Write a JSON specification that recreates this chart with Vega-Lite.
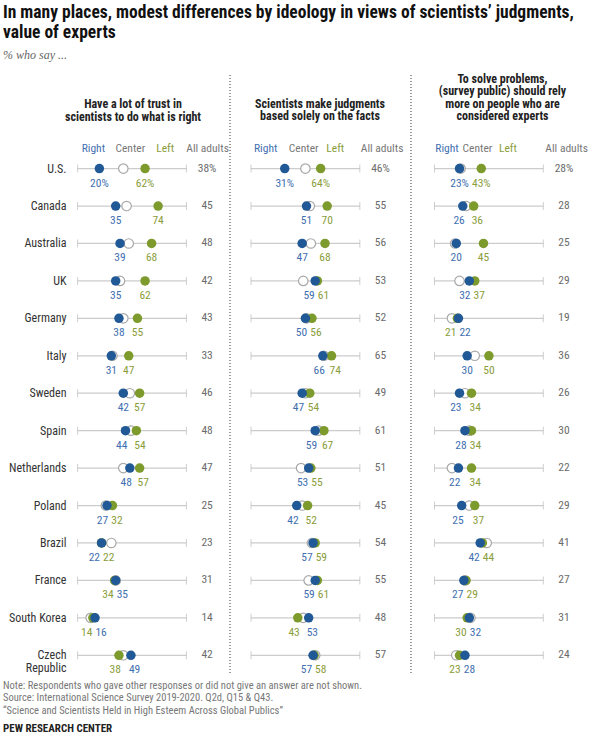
{
  "$schema": "https://vega.github.io/schema/vega-lite/v6.json",
  "background": "white",
  "padding": {"left": 3, "top": 4, "right": 5, "bottom": 5},
  "title": {
    "text": ["In many places, modest differences by ideology in views of scientists’ judgments,", "value of experts"],
    "subtitle": "% who say ...",
    "anchor": "start",
    "font": "Liberation Sans Narrow, Roboto Condensed, Arial Narrow, Roboto, sans-serif",
    "fontSize": 17.5,
    "fontWeight": "bold",
    "lineHeight": 20,
    "color": "#111111",
    "subtitleFont": "Liberation Serif, DejaVu Serif, serif",
    "subtitleFontStyle": "italic",
    "subtitleFontSize": 12,
    "subtitleColor": "#666666",
    "subtitlePadding": 8,
    "offset": 12
  },
  "datasets": {
    "trust": [
      {"country": "U.S.", "R": 20, "C": 42, "L": 62, "all": 38},
      {"country": "Canada", "R": 35, "C": 45, "L": 74, "all": 45},
      {"country": "Australia", "R": 39, "C": 47, "L": 68, "all": 48},
      {"country": "UK", "R": 35, "C": 39, "L": 62, "all": 42},
      {"country": "Germany", "R": 38, "C": 42, "L": 55, "all": 43},
      {"country": "Italy", "R": 31, "C": 32, "L": 47, "all": 33},
      {"country": "Sweden", "R": 42, "C": 48, "L": 57, "all": 46},
      {"country": "Spain", "R": 44, "C": 49, "L": 54, "all": 48},
      {"country": "Netherlands", "R": 48, "C": 42, "L": 57, "all": 47},
      {"country": "Poland", "R": 27, "C": 26, "L": 32, "all": 25},
      {"country": "Brazil", "R": 22, "C": 31, "L": 22, "all": 23},
      {"country": "France", "R": 35, "C": 35, "L": 34, "all": 31},
      {"country": "South Korea", "R": 16, "C": 12, "L": 14, "all": 14},
      {"country": "Czech Republic", "R": 49, "C": 42, "L": 38, "all": 42}
    ],
    "facts": [
      {"country": "U.S.", "R": 31, "C": 50, "L": 64, "all": 46},
      {"country": "Canada", "R": 51, "C": 54, "L": 70, "all": 55},
      {"country": "Australia", "R": 47, "C": 55, "L": 68, "all": 56},
      {"country": "UK", "R": 59, "C": 48, "L": 61, "all": 53},
      {"country": "Germany", "R": 50, "C": 51, "L": 56, "all": 52},
      {"country": "Italy", "R": 66, "C": 67, "L": 74, "all": 65},
      {"country": "Sweden", "R": 47, "C": 50, "L": 54, "all": 49},
      {"country": "Spain", "R": 59, "C": 62, "L": 67, "all": 61},
      {"country": "Netherlands", "R": 53, "C": 46, "L": 55, "all": 51},
      {"country": "Poland", "R": 42, "C": 47, "L": 52, "all": 45},
      {"country": "Brazil", "R": 57, "C": 56, "L": 59, "all": 54},
      {"country": "France", "R": 59, "C": 53, "L": 61, "all": 55},
      {"country": "South Korea", "R": 53, "C": 48, "L": 43, "all": 48},
      {"country": "Czech Republic", "R": 57, "C": 59, "L": 58, "all": 57}
    ],
    "experts": [
      {"country": "U.S.", "R": 23, "C": 24, "L": 43, "all": 28},
      {"country": "Canada", "R": 26, "C": 29, "L": 36, "all": 28},
      {"country": "Australia", "R": 20, "C": 19, "L": 45, "all": 25},
      {"country": "UK", "R": 32, "C": 23, "L": 37, "all": 29},
      {"country": "Germany", "R": 22, "C": 16, "L": 21, "all": 19},
      {"country": "Italy", "R": 30, "C": 37, "L": 50, "all": 36},
      {"country": "Sweden", "R": 23, "C": 28, "L": 34, "all": 26},
      {"country": "Spain", "R": 28, "C": 32, "L": 34, "all": 30},
      {"country": "Netherlands", "R": 22, "C": 16, "L": 34, "all": 22},
      {"country": "Poland", "R": 25, "C": 32, "L": 37, "all": 29},
      {"country": "Brazil", "R": 42, "C": 48, "L": 44, "all": 41},
      {"country": "France", "R": 27, "C": 28, "L": 29, "all": 27},
      {"country": "South Korea", "R": 32, "C": 33, "L": 30, "all": 31},
      {"country": "Czech Republic", "R": 28, "C": 20, "L": 23, "all": 24}
    ]
  },
  "vconcat": [
    {
      "title": {
        "text": [
          "Note: Respondents who gave other responses or did not give an answer are not shown.",
          "Source: International Science Survey 2019-2020. Q2d, Q15 & Q43.",
          "“Science and Scientists Held in High Esteem Across Global Publics”"
        ],
        "subtitle": "PEW RESEARCH CENTER",
        "orient": "bottom",
        "anchor": "start",
        "frame": "group",
        "dx": -67,
        "font": "Liberation Sans Narrow, Roboto Condensed, Arial Narrow, Roboto, sans-serif",
        "fontSize": 10.5,
        "fontWeight": "normal",
        "color": "#777777",
        "lineHeight": 12.5,
        "offset": 5,
        "subtitleFont": "Liberation Sans Narrow, Roboto Condensed, Arial Narrow, Roboto, sans-serif",
        "subtitleFontSize": 11,
        "subtitleFontWeight": "bold",
        "subtitleColor": "#222222",
        "subtitlePadding": 7
      },
      "spacing": 0,
      "hconcat": [
        {
          "data": {"name": "trust"},
          "width": 156,
          "height": 599,
          "title": {
            "text": ["Have a lot of trust in", "scientists to do what is right"],
            "orient": "top", "anchor": "middle", "frame": "group", "offset": -49, "dx": -15,
            "font": "Liberation Sans Narrow, Roboto Condensed, Arial Narrow, Roboto, sans-serif",
            "fontSize": 12, "fontWeight": "bold", "color": "#222222", "lineHeight": 12.6
          },
          "transform": [
            {"calculate": "datum.R + (datum.country == 'U.S.' ? '%' : '')", "as": "Rlab"},
            {"calculate": "datum.L + (datum.country == 'U.S.' ? '%' : '')", "as": "Llab"},
            {"calculate": "datum.all + (datum.country == 'U.S.' ? '%' : '')", "as": "Alab"}
          ],
          "layer": [
            {
              "mark": {"type": "rule", "color": "#cccccc", "strokeWidth": 1.3},
              "encoding": {
                "x": {"datum": 0, "type": "quantitative", "title": null, "scale": {"domain": [-7, 136.4], "nice": false, "zero": false}},
                "x2": {"datum": 100},
                "y": {"field": "country", "type": "nominal", "title": null,
                  "scale": {"type": "band", "paddingInner": 0, "paddingOuter": 0, "domain": ["_a", "_b", "U.S.", "Canada", "Australia", "UK", "Germany", "Italy", "Sweden", "Spain", "Netherlands", "Poland", "Brazil", "France", "South Korea", "Czech Republic"]},
                  "axis": {"domain": false, "ticks": false, "grid": false, "labelPadding": 4, "labelFontSize": 12,
                    "labelFont": "Liberation Sans Narrow, Roboto Condensed, Arial Narrow, Roboto, sans-serif",
                    "labelColor": "#333333", "labelLineHeight": 13, "minExtent": 67, "maxExtent": 67,
                    "labelExpr": "datum.label == 'Czech Republic' ? ['Czech', 'Republic'] : (datum.label == '_a' || datum.label == '_b' ? '' : datum.label)"}}
              }
            },
            {
              "mark": {"type": "tick", "color": "#bbbbbb", "thickness": 1, "size": 8},
              "encoding": {
                "x": {"datum": 0, "type": "quantitative", "title": null, "scale": {"domain": [-7, 136.4], "nice": false, "zero": false}},
                "y": {"field": "country", "type": "nominal", "title": null, "scale": {"type": "band", "paddingInner": 0, "paddingOuter": 0, "domain": ["_a", "_b", "U.S.", "Canada", "Australia", "UK", "Germany", "Italy", "Sweden", "Spain", "Netherlands", "Poland", "Brazil", "France", "South Korea", "Czech Republic"]}}
              }
            },
            {
              "mark": {"type": "tick", "color": "#bbbbbb", "thickness": 1, "size": 8},
              "encoding": {
                "x": {"datum": 100, "type": "quantitative", "title": null, "scale": {"domain": [-7, 136.4], "nice": false, "zero": false}},
                "y": {"field": "country", "type": "nominal", "title": null, "scale": {"type": "band", "paddingInner": 0, "paddingOuter": 0, "domain": ["_a", "_b", "U.S.", "Canada", "Australia", "UK", "Germany", "Italy", "Sweden", "Spain", "Netherlands", "Poland", "Brazil", "France", "South Korea", "Czech Republic"]}}
              }
            },
            {
              "mark": {"type": "point", "filled": true, "fill": "white", "stroke": "#a8a8a8", "strokeWidth": 1.2, "size": 90, "opacity": 1},
              "encoding": {
                "x": {"field": "C", "type": "quantitative", "title": null, "scale": {"domain": [-7, 136.4], "nice": false, "zero": false},
                  "axis": {"orient": "top", "offset": -80, "values": [14, 48, 80, 119], "domain": false, "ticks": false, "grid": false,
                    "labelPadding": 2, "labelFontSize": 11.5, "labelOverlap": false, "labelFlush": false,
                    "labelFont": "Liberation Sans Narrow, Roboto Condensed, Arial Narrow, Roboto, sans-serif",
                    "labelExpr": "datum.value == 14 ? 'Right' : datum.value == 48 ? 'Center' : datum.value == 80 ? 'Left' : 'All adults'",
                    "labelColor": {"condition": [{"test": "datum.value == 14", "value": "#3f6fb0"}, {"test": "datum.value == 80", "value": "#8a9d3a"}], "value": "#777777"}}},
                "y": {"field": "country", "type": "nominal", "title": null, "scale": {"type": "band", "paddingInner": 0, "paddingOuter": 0, "domain": ["_a", "_b", "U.S.", "Canada", "Australia", "UK", "Germany", "Italy", "Sweden", "Spain", "Netherlands", "Poland", "Brazil", "France", "South Korea", "Czech Republic"]}}
              }
            },
            {
              "mark": {"type": "point", "filled": true, "color": "#7d9a2c", "size": 90, "opacity": 1},
              "encoding": {
                "x": {"field": "L", "type": "quantitative", "title": null, "scale": {"domain": [-7, 136.4], "nice": false, "zero": false}},
                "y": {"field": "country", "type": "nominal", "title": null, "scale": {"type": "band", "paddingInner": 0, "paddingOuter": 0, "domain": ["_a", "_b", "U.S.", "Canada", "Australia", "UK", "Germany", "Italy", "Sweden", "Spain", "Netherlands", "Poland", "Brazil", "France", "South Korea", "Czech Republic"]}}
              }
            },
            {
              "mark": {"type": "point", "filled": true, "color": "#215896", "size": 90, "opacity": 1},
              "encoding": {
                "x": {"field": "R", "type": "quantitative", "title": null, "scale": {"domain": [-7, 136.4], "nice": false, "zero": false}},
                "y": {"field": "country", "type": "nominal", "title": null, "scale": {"type": "band", "paddingInner": 0, "paddingOuter": 0, "domain": ["_a", "_b", "U.S.", "Canada", "Australia", "UK", "Germany", "Italy", "Sweden", "Spain", "Netherlands", "Poland", "Brazil", "France", "South Korea", "Czech Republic"]}}
              }
            },
            {
              "mark": {"type": "text", "dy": 15, "fontSize": 11.5, "color": "#3f6fb0",
                "font": "Liberation Sans Narrow, Roboto Condensed, Arial Narrow, Roboto, sans-serif",
                "align": {"expr": "abs(datum.L - datum.R) >= 14 ? 'center' : (datum.R <= datum.L ? 'right' : 'left')"},
                "dx": {"expr": "abs(datum.L - datum.R) >= 14 ? 0 : (datum.R <= datum.L ? 1 : -1) * min(2, abs(datum.L - datum.R) * 0.54 - 1.5)"}},
              "encoding": {
                "x": {"field": "R", "type": "quantitative", "title": null, "scale": {"domain": [-7, 136.4], "nice": false, "zero": false}},
                "y": {"field": "country", "type": "nominal", "title": null, "scale": {"type": "band", "paddingInner": 0, "paddingOuter": 0, "domain": ["_a", "_b", "U.S.", "Canada", "Australia", "UK", "Germany", "Italy", "Sweden", "Spain", "Netherlands", "Poland", "Brazil", "France", "South Korea", "Czech Republic"]}},
                "text": {"field": "Rlab"}
              }
            },
            {
              "mark": {"type": "text", "dy": 15, "fontSize": 11.5, "color": "#8a9d3a",
                "font": "Liberation Sans Narrow, Roboto Condensed, Arial Narrow, Roboto, sans-serif",
                "align": {"expr": "abs(datum.L - datum.R) >= 14 ? 'center' : (datum.L >= datum.R ? 'left' : 'right')"},
                "dx": {"expr": "abs(datum.L - datum.R) >= 14 ? 0 : (datum.L >= datum.R ? -1 : 1) * min(2, abs(datum.L - datum.R) * 0.54 - 1.5)"}},
              "encoding": {
                "x": {"field": "L", "type": "quantitative", "title": null, "scale": {"domain": [-7, 136.4], "nice": false, "zero": false}},
                "y": {"field": "country", "type": "nominal", "title": null, "scale": {"type": "band", "paddingInner": 0, "paddingOuter": 0, "domain": ["_a", "_b", "U.S.", "Canada", "Australia", "UK", "Germany", "Italy", "Sweden", "Spain", "Netherlands", "Poland", "Brazil", "France", "South Korea", "Czech Republic"]}},
                "text": {"field": "Llab"}
              }
            },
            {
              "mark": {"type": "text", "fontSize": 11.5, "color": "#6b6b6b",
                "font": "Liberation Sans Narrow, Roboto Condensed, Arial Narrow, Roboto, sans-serif"},
              "encoding": {
                "x": {"datum": 119, "type": "quantitative", "title": null, "scale": {"domain": [-7, 136.4], "nice": false, "zero": false}},
                "y": {"field": "country", "type": "nominal", "title": null, "scale": {"type": "band", "paddingInner": 0, "paddingOuter": 0, "domain": ["_a", "_b", "U.S.", "Canada", "Australia", "UK", "Germany", "Italy", "Sweden", "Spain", "Netherlands", "Poland", "Brazil", "France", "South Korea", "Czech Republic"]}},
                "text": {"field": "Alab"}
              }
            }
          ]
        },
        {
          "data": {"name": "facts"},
          "width": 180,
          "height": 599,
          "title": {
            "text": ["Scientists make judgments", "based solely on the facts"],
            "orient": "top", "anchor": "middle", "frame": "group", "offset": -49, "dx": 0,
            "font": "Liberation Sans Narrow, Roboto Condensed, Arial Narrow, Roboto, sans-serif",
            "fontSize": 12, "fontWeight": "bold", "color": "#222222", "lineHeight": 12.6
          },
          "transform": [
            {"calculate": "datum.R + (datum.country == 'U.S.' ? '%' : '')", "as": "Rlab"},
            {"calculate": "datum.L + (datum.country == 'U.S.' ? '%' : '')", "as": "Llab"},
            {"calculate": "datum.all + (datum.country == 'U.S.' ? '%' : '')", "as": "Alab"}
          ],
          "layer": [
            {
              "mark": {"type": "rule", "color": "#9a9a9a", "strokeDash": [1, 2], "strokeWidth": 1},
              "encoding": {
                "x": {"datum": -19.3, "type": "quantitative", "title": null, "scale": {"domain": [-19.3, 146.1], "nice": false, "zero": false}}
              }
            },
            {
              "mark": {"type": "rule", "color": "#cccccc", "strokeWidth": 1.3},
              "encoding": {
                "x": {"datum": 0, "type": "quantitative", "title": null, "scale": {"domain": [-19.3, 146.1], "nice": false, "zero": false}},
                "x2": {"datum": 100},
                "y": {"field": "country", "type": "nominal", "title": null, "axis": null, "scale": {"type": "band", "paddingInner": 0, "paddingOuter": 0, "domain": ["_a", "_b", "U.S.", "Canada", "Australia", "UK", "Germany", "Italy", "Sweden", "Spain", "Netherlands", "Poland", "Brazil", "France", "South Korea", "Czech Republic"]}}
              }
            },
            {
              "mark": {"type": "tick", "color": "#bbbbbb", "thickness": 1, "size": 8},
              "encoding": {
                "x": {"datum": 0, "type": "quantitative", "title": null, "scale": {"domain": [-19.3, 146.1], "nice": false, "zero": false}},
                "y": {"field": "country", "type": "nominal", "title": null, "axis": null, "scale": {"type": "band", "paddingInner": 0, "paddingOuter": 0, "domain": ["_a", "_b", "U.S.", "Canada", "Australia", "UK", "Germany", "Italy", "Sweden", "Spain", "Netherlands", "Poland", "Brazil", "France", "South Korea", "Czech Republic"]}}
              }
            },
            {
              "mark": {"type": "tick", "color": "#bbbbbb", "thickness": 1, "size": 8},
              "encoding": {
                "x": {"datum": 100, "type": "quantitative", "title": null, "scale": {"domain": [-19.3, 146.1], "nice": false, "zero": false}},
                "y": {"field": "country", "type": "nominal", "title": null, "axis": null, "scale": {"type": "band", "paddingInner": 0, "paddingOuter": 0, "domain": ["_a", "_b", "U.S.", "Canada", "Australia", "UK", "Germany", "Italy", "Sweden", "Spain", "Netherlands", "Poland", "Brazil", "France", "South Korea", "Czech Republic"]}}
              }
            },
            {
              "mark": {"type": "point", "filled": true, "fill": "white", "stroke": "#a8a8a8", "strokeWidth": 1.2, "size": 90, "opacity": 1},
              "encoding": {
                "x": {"field": "C", "type": "quantitative", "title": null, "scale": {"domain": [-19.3, 146.1], "nice": false, "zero": false},
                  "axis": {"orient": "top", "offset": -80, "values": [13, 48, 77, 120], "domain": false, "ticks": false, "grid": false,
                    "labelPadding": 2, "labelFontSize": 11.5, "labelOverlap": false, "labelFlush": false,
                    "labelFont": "Liberation Sans Narrow, Roboto Condensed, Arial Narrow, Roboto, sans-serif",
                    "labelExpr": "datum.value == 13 ? 'Right' : datum.value == 48 ? 'Center' : datum.value == 77 ? 'Left' : 'All adults'",
                    "labelColor": {"condition": [{"test": "datum.value == 13", "value": "#3f6fb0"}, {"test": "datum.value == 77", "value": "#8a9d3a"}], "value": "#777777"}}},
                "y": {"field": "country", "type": "nominal", "title": null, "axis": null, "scale": {"type": "band", "paddingInner": 0, "paddingOuter": 0, "domain": ["_a", "_b", "U.S.", "Canada", "Australia", "UK", "Germany", "Italy", "Sweden", "Spain", "Netherlands", "Poland", "Brazil", "France", "South Korea", "Czech Republic"]}}
              }
            },
            {
              "mark": {"type": "point", "filled": true, "color": "#7d9a2c", "size": 90, "opacity": 1},
              "encoding": {
                "x": {"field": "L", "type": "quantitative", "title": null, "scale": {"domain": [-19.3, 146.1], "nice": false, "zero": false}},
                "y": {"field": "country", "type": "nominal", "title": null, "axis": null, "scale": {"type": "band", "paddingInner": 0, "paddingOuter": 0, "domain": ["_a", "_b", "U.S.", "Canada", "Australia", "UK", "Germany", "Italy", "Sweden", "Spain", "Netherlands", "Poland", "Brazil", "France", "South Korea", "Czech Republic"]}}
              }
            },
            {
              "mark": {"type": "point", "filled": true, "color": "#215896", "size": 90, "opacity": 1},
              "encoding": {
                "x": {"field": "R", "type": "quantitative", "title": null, "scale": {"domain": [-19.3, 146.1], "nice": false, "zero": false}},
                "y": {"field": "country", "type": "nominal", "title": null, "axis": null, "scale": {"type": "band", "paddingInner": 0, "paddingOuter": 0, "domain": ["_a", "_b", "U.S.", "Canada", "Australia", "UK", "Germany", "Italy", "Sweden", "Spain", "Netherlands", "Poland", "Brazil", "France", "South Korea", "Czech Republic"]}}
              }
            },
            {
              "mark": {"type": "text", "dy": 15, "fontSize": 11.5, "color": "#3f6fb0",
                "font": "Liberation Sans Narrow, Roboto Condensed, Arial Narrow, Roboto, sans-serif",
                "align": {"expr": "abs(datum.L - datum.R) >= 14 ? 'center' : (datum.R <= datum.L ? 'right' : 'left')"},
                "dx": {"expr": "abs(datum.L - datum.R) >= 14 ? 0 : (datum.R <= datum.L ? 1 : -1) * min(2, abs(datum.L - datum.R) * 0.54 - 1.5)"}},
              "encoding": {
                "x": {"field": "R", "type": "quantitative", "title": null, "scale": {"domain": [-19.3, 146.1], "nice": false, "zero": false}},
                "y": {"field": "country", "type": "nominal", "title": null, "axis": null, "scale": {"type": "band", "paddingInner": 0, "paddingOuter": 0, "domain": ["_a", "_b", "U.S.", "Canada", "Australia", "UK", "Germany", "Italy", "Sweden", "Spain", "Netherlands", "Poland", "Brazil", "France", "South Korea", "Czech Republic"]}},
                "text": {"field": "Rlab"}
              }
            },
            {
              "mark": {"type": "text", "dy": 15, "fontSize": 11.5, "color": "#8a9d3a",
                "font": "Liberation Sans Narrow, Roboto Condensed, Arial Narrow, Roboto, sans-serif",
                "align": {"expr": "abs(datum.L - datum.R) >= 14 ? 'center' : (datum.L >= datum.R ? 'left' : 'right')"},
                "dx": {"expr": "abs(datum.L - datum.R) >= 14 ? 0 : (datum.L >= datum.R ? -1 : 1) * min(2, abs(datum.L - datum.R) * 0.54 - 1.5)"}},
              "encoding": {
                "x": {"field": "L", "type": "quantitative", "title": null, "scale": {"domain": [-19.3, 146.1], "nice": false, "zero": false}},
                "y": {"field": "country", "type": "nominal", "title": null, "axis": null, "scale": {"type": "band", "paddingInner": 0, "paddingOuter": 0, "domain": ["_a", "_b", "U.S.", "Canada", "Australia", "UK", "Germany", "Italy", "Sweden", "Spain", "Netherlands", "Poland", "Brazil", "France", "South Korea", "Czech Republic"]}},
                "text": {"field": "Llab"}
              }
            },
            {
              "mark": {"type": "text", "fontSize": 11.5, "color": "#6b6b6b",
                "font": "Liberation Sans Narrow, Roboto Condensed, Arial Narrow, Roboto, sans-serif"},
              "encoding": {
                "x": {"datum": 119, "type": "quantitative", "title": null, "scale": {"domain": [-19.3, 146.1], "nice": false, "zero": false}},
                "y": {"field": "country", "type": "nominal", "title": null, "axis": null, "scale": {"type": "band", "paddingInner": 0, "paddingOuter": 0, "domain": ["_a", "_b", "U.S.", "Canada", "Australia", "UK", "Germany", "Italy", "Sweden", "Spain", "Netherlands", "Poland", "Brazil", "France", "South Korea", "Czech Republic"]}},
                "text": {"field": "Alab"}
              }
            }
          ]
        },
        {
          "data": {"name": "experts"},
          "width": 183,
          "height": 599,
          "title": {
            "text": ["To solve problems,", "(survey public) should rely", "more on people who are", "considered experts"],
            "orient": "top", "anchor": "middle", "frame": "group", "offset": -49, "dx": 0,
            "font": "Liberation Sans Narrow, Roboto Condensed, Arial Narrow, Roboto, sans-serif",
            "fontSize": 12, "fontWeight": "bold", "color": "#222222", "lineHeight": 12.6
          },
          "transform": [
            {"calculate": "datum.R + (datum.country == 'U.S.' ? '%' : '')", "as": "Rlab"},
            {"calculate": "datum.L + (datum.country == 'U.S.' ? '%' : '')", "as": "Llab"},
            {"calculate": "datum.all + (datum.country == 'U.S.' ? '%' : '')", "as": "Alab"}
          ],
          "layer": [
            {
              "mark": {"type": "rule", "color": "#9a9a9a", "strokeDash": [1, 2], "strokeWidth": 1},
              "encoding": {
                "x": {"datum": -21.6, "type": "quantitative", "title": null, "scale": {"domain": [-21.6, 146.6], "nice": false, "zero": false}}
              }
            },
            {
              "mark": {"type": "rule", "color": "#cccccc", "strokeWidth": 1.3},
              "encoding": {
                "x": {"datum": 0, "type": "quantitative", "title": null, "scale": {"domain": [-21.6, 146.6], "nice": false, "zero": false}},
                "x2": {"datum": 100},
                "y": {"field": "country", "type": "nominal", "title": null, "axis": null, "scale": {"type": "band", "paddingInner": 0, "paddingOuter": 0, "domain": ["_a", "_b", "U.S.", "Canada", "Australia", "UK", "Germany", "Italy", "Sweden", "Spain", "Netherlands", "Poland", "Brazil", "France", "South Korea", "Czech Republic"]}}
              }
            },
            {
              "mark": {"type": "tick", "color": "#bbbbbb", "thickness": 1, "size": 8},
              "encoding": {
                "x": {"datum": 0, "type": "quantitative", "title": null, "scale": {"domain": [-21.6, 146.6], "nice": false, "zero": false}},
                "y": {"field": "country", "type": "nominal", "title": null, "axis": null, "scale": {"type": "band", "paddingInner": 0, "paddingOuter": 0, "domain": ["_a", "_b", "U.S.", "Canada", "Australia", "UK", "Germany", "Italy", "Sweden", "Spain", "Netherlands", "Poland", "Brazil", "France", "South Korea", "Czech Republic"]}}
              }
            },
            {
              "mark": {"type": "tick", "color": "#bbbbbb", "thickness": 1, "size": 8},
              "encoding": {
                "x": {"datum": 100, "type": "quantitative", "title": null, "scale": {"domain": [-21.6, 146.6], "nice": false, "zero": false}},
                "y": {"field": "country", "type": "nominal", "title": null, "axis": null, "scale": {"type": "band", "paddingInner": 0, "paddingOuter": 0, "domain": ["_a", "_b", "U.S.", "Canada", "Australia", "UK", "Germany", "Italy", "Sweden", "Spain", "Netherlands", "Poland", "Brazil", "France", "South Korea", "Czech Republic"]}}
              }
            },
            {
              "mark": {"type": "point", "filled": true, "fill": "white", "stroke": "#a8a8a8", "strokeWidth": 1.2, "size": 90, "opacity": 1},
              "encoding": {
                "x": {"field": "C", "type": "quantitative", "title": null, "scale": {"domain": [-21.6, 146.6], "nice": false, "zero": false},
                  "axis": {"orient": "top", "offset": -80, "values": [11, 39, 67, 121], "domain": false, "ticks": false, "grid": false,
                    "labelPadding": 2, "labelFontSize": 11.5, "labelOverlap": false, "labelFlush": false,
                    "labelFont": "Liberation Sans Narrow, Roboto Condensed, Arial Narrow, Roboto, sans-serif",
                    "labelExpr": "datum.value == 11 ? 'Right' : datum.value == 39 ? 'Center' : datum.value == 67 ? 'Left' : 'All adults'",
                    "labelColor": {"condition": [{"test": "datum.value == 11", "value": "#3f6fb0"}, {"test": "datum.value == 67", "value": "#8a9d3a"}], "value": "#777777"}}},
                "y": {"field": "country", "type": "nominal", "title": null, "axis": null, "scale": {"type": "band", "paddingInner": 0, "paddingOuter": 0, "domain": ["_a", "_b", "U.S.", "Canada", "Australia", "UK", "Germany", "Italy", "Sweden", "Spain", "Netherlands", "Poland", "Brazil", "France", "South Korea", "Czech Republic"]}}
              }
            },
            {
              "mark": {"type": "point", "filled": true, "color": "#7d9a2c", "size": 90, "opacity": 1},
              "encoding": {
                "x": {"field": "L", "type": "quantitative", "title": null, "scale": {"domain": [-21.6, 146.6], "nice": false, "zero": false}},
                "y": {"field": "country", "type": "nominal", "title": null, "axis": null, "scale": {"type": "band", "paddingInner": 0, "paddingOuter": 0, "domain": ["_a", "_b", "U.S.", "Canada", "Australia", "UK", "Germany", "Italy", "Sweden", "Spain", "Netherlands", "Poland", "Brazil", "France", "South Korea", "Czech Republic"]}}
              }
            },
            {
              "mark": {"type": "point", "filled": true, "color": "#215896", "size": 90, "opacity": 1},
              "encoding": {
                "x": {"field": "R", "type": "quantitative", "title": null, "scale": {"domain": [-21.6, 146.6], "nice": false, "zero": false}},
                "y": {"field": "country", "type": "nominal", "title": null, "axis": null, "scale": {"type": "band", "paddingInner": 0, "paddingOuter": 0, "domain": ["_a", "_b", "U.S.", "Canada", "Australia", "UK", "Germany", "Italy", "Sweden", "Spain", "Netherlands", "Poland", "Brazil", "France", "South Korea", "Czech Republic"]}}
              }
            },
            {
              "mark": {"type": "text", "dy": 15, "fontSize": 11.5, "color": "#3f6fb0",
                "font": "Liberation Sans Narrow, Roboto Condensed, Arial Narrow, Roboto, sans-serif",
                "align": {"expr": "abs(datum.L - datum.R) >= 14 ? 'center' : (datum.R <= datum.L ? 'right' : 'left')"},
                "dx": {"expr": "abs(datum.L - datum.R) >= 14 ? 0 : (datum.R <= datum.L ? 1 : -1) * min(2, abs(datum.L - datum.R) * 0.54 - 1.5)"}},
              "encoding": {
                "x": {"field": "R", "type": "quantitative", "title": null, "scale": {"domain": [-21.6, 146.6], "nice": false, "zero": false}},
                "y": {"field": "country", "type": "nominal", "title": null, "axis": null, "scale": {"type": "band", "paddingInner": 0, "paddingOuter": 0, "domain": ["_a", "_b", "U.S.", "Canada", "Australia", "UK", "Germany", "Italy", "Sweden", "Spain", "Netherlands", "Poland", "Brazil", "France", "South Korea", "Czech Republic"]}},
                "text": {"field": "Rlab"}
              }
            },
            {
              "mark": {"type": "text", "dy": 15, "fontSize": 11.5, "color": "#8a9d3a",
                "font": "Liberation Sans Narrow, Roboto Condensed, Arial Narrow, Roboto, sans-serif",
                "align": {"expr": "abs(datum.L - datum.R) >= 14 ? 'center' : (datum.L >= datum.R ? 'left' : 'right')"},
                "dx": {"expr": "abs(datum.L - datum.R) >= 14 ? 0 : (datum.L >= datum.R ? -1 : 1) * min(2, abs(datum.L - datum.R) * 0.54 - 1.5)"}},
              "encoding": {
                "x": {"field": "L", "type": "quantitative", "title": null, "scale": {"domain": [-21.6, 146.6], "nice": false, "zero": false}},
                "y": {"field": "country", "type": "nominal", "title": null, "axis": null, "scale": {"type": "band", "paddingInner": 0, "paddingOuter": 0, "domain": ["_a", "_b", "U.S.", "Canada", "Australia", "UK", "Germany", "Italy", "Sweden", "Spain", "Netherlands", "Poland", "Brazil", "France", "South Korea", "Czech Republic"]}},
                "text": {"field": "Llab"}
              }
            },
            {
              "mark": {"type": "text", "fontSize": 11.5, "color": "#6b6b6b",
                "font": "Liberation Sans Narrow, Roboto Condensed, Arial Narrow, Roboto, sans-serif"},
              "encoding": {
                "x": {"datum": 119, "type": "quantitative", "title": null, "scale": {"domain": [-21.6, 146.6], "nice": false, "zero": false}},
                "y": {"field": "country", "type": "nominal", "title": null, "axis": null, "scale": {"type": "band", "paddingInner": 0, "paddingOuter": 0, "domain": ["_a", "_b", "U.S.", "Canada", "Australia", "UK", "Germany", "Italy", "Sweden", "Spain", "Netherlands", "Poland", "Brazil", "France", "South Korea", "Czech Republic"]}},
                "text": {"field": "Alab"}
              }
            }
          ]
        }
      ]
    }
  ],
  "config": {
    "view": {"stroke": null},
    "concat": {"spacing": 0}
  }
}
